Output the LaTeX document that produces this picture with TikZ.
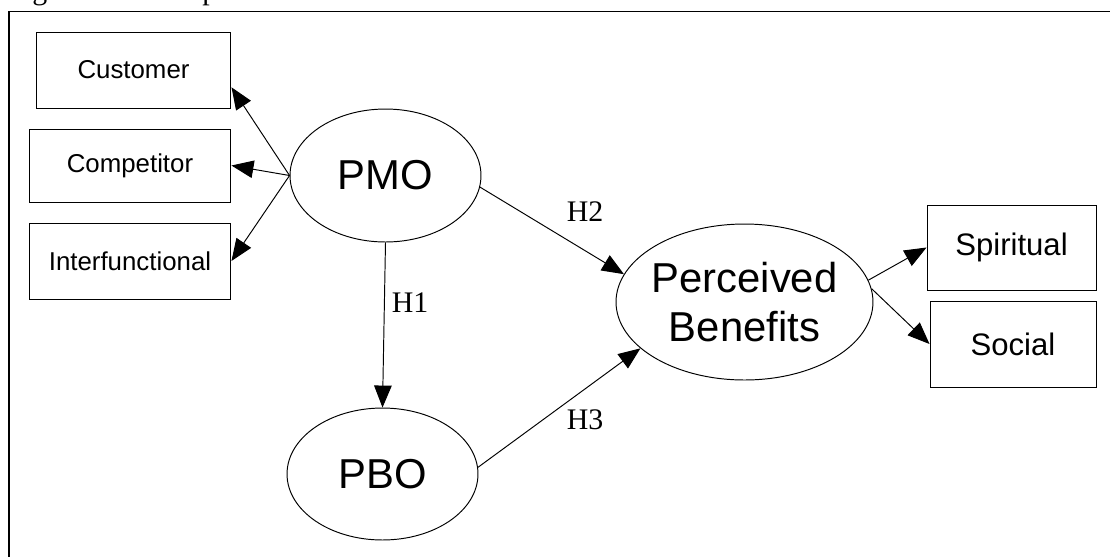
\documentclass[tikz,border=0pt]{standalone}
\usepackage{fontspec}
\setmainfont{Liberation Serif}
\setsansfont{Liberation Sans}
\usetikzlibrary{arrows.meta, shapes.geometric}

\begin{document}
\begin{tikzpicture}[x=0.02cm, y=-0.02cm, line width=0.55pt,
    dimbox/.style={draw, rectangle, inner sep=0pt, font=\sffamily\fontsize{14.7}{17}\selectfont},
    benefitbox/.style={dimbox, font=\sffamily\fontsize{17.7}{20}\selectfont},
    construct/.style={draw, ellipse, inner sep=-8pt, align=center, font=\sffamily\fontsize{23.8}{27.8}\selectfont},
    hyp/.style={inner sep=0pt, font=\fontsize{17}{20}\selectfont},
    >={Triangle[length=12.5pt, width=10pt]}]
    \useasboundingbox (0,0) rectangle (1110,556);
    \clip (0,0) rectangle (1110,556);
    % Caption (cut off at the top)
    \node[anchor=base west, inner sep=0pt, font=\fontsize{17}{20}\selectfont] (caption) at (7,-0.5) {Figure 1: Conceptual Framework};
    % Frame
    \draw[line width=1.1pt] (9,570) -- (9,11.5) -- (1120,11.5);
    % Dimensions
    \node[dimbox, minimum width=3.9cm, minimum height=1.52cm] (customer) at (133.5,70) {Customer\hspace{0.44cm}};
    \node[dimbox, minimum width=4.04cm, minimum height=1.46cm] (competitor) at (130,165.5) {Competitor\hspace{0.54cm}};
    \node[dimbox, minimum width=4.04cm, minimum height=1.52cm] (interf) at (130,261) {Interfunctional};
    \node[benefitbox, minimum width=3.38cm, minimum height=1.7cm] (spiritual) at (1011.5,247.5) {Spiritual};
    \node[benefitbox, minimum width=3.32cm, minimum height=1.72cm] (social) at (1013,344) {Social};
    % Constructs
    \node[construct, minimum width=3.82cm, minimum height=2.66cm] (pmo) at (385.5,175.5) {PMO};
    \node[construct, minimum width=3.82cm, minimum height=2.64cm] (pbo) at (382.5,474) {PBO};
    \node[construct, minimum width=5.14cm, minimum height=3.12cm] (pb) at (744.5,302) {Perceived\\Benefits};
    % Paths
    \draw[->] (pmo.west) -- (customer.-10);
    \draw[->] (pmo.west) -- (competitor.east);
    \draw[->] (pmo.west) -- (interf.east);
    \draw[->] (pmo.south) -- (pbo.north);
    \draw[->] (pmo.-7) -- (pb.167);
    \draw[->] (pbo.4) -- (pb.204);
    \draw[->] (pb.10) -- (spiritual.west);
    \draw[->] (pb.6) -- (social.west);
    % Hypotheses
    \node[hyp] (h1) at (410,303) {H1};
    \node[hyp] (h2) at (585,212) {H2};
    \node[hyp] (h3) at (585,420) {H3};
\end{tikzpicture}
\end{document}
